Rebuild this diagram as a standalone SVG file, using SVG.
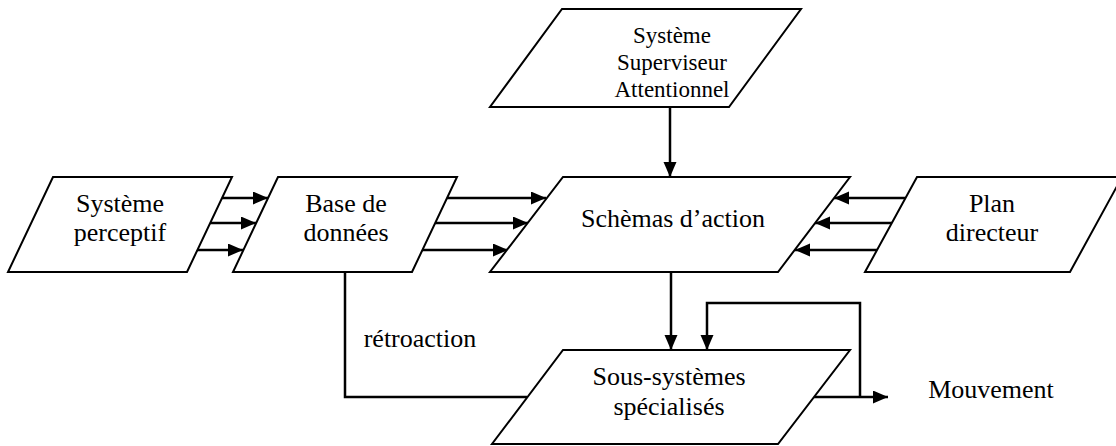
<svg xmlns="http://www.w3.org/2000/svg" width="1116" height="446" viewBox="0 0 1116 446">
<style>
.box{fill:#fff;stroke:#000;stroke-width:2;stroke-linejoin:miter}
text{font-family:Liberation Serif,"Times New Roman",Times,Tinos,"Noto Serif","DejaVu Serif",FreeSerif,serif;font-size:26px;fill:#000;text-anchor:middle}
.ts{font-size:23px}
.c{fill:none;stroke:#000;stroke-width:2.5}
.ca{fill:none;stroke:#000;stroke-width:2.5;marker-end:url(#ah)}
</style>
<defs>
<marker id="ah" markerUnits="userSpaceOnUse" markerWidth="16" markerHeight="14" refX="15" refY="6.5" orient="auto">
<path d="M0,0 L15,6.5 L0,13 Z" fill="#000"/>
</marker>
</defs>
<rect width="1116" height="446" fill="#fff"/>
<g id="connectors">
<path class="ca" d="M670,107 V177"/>
<path class="ca" d="M222,198 H268"/>
<path class="ca" d="M210,223 H256"/>
<path class="ca" d="M197,250 H243"/>
<path class="ca" d="M447,198 H546"/>
<path class="ca" d="M435,223 H528"/>
<path class="ca" d="M422,250 H508"/>
<path class="ca" d="M905,198 H834"/>
<path class="ca" d="M892,223 H815"/>
<path class="ca" d="M877,250 H795"/>
<path class="ca" d="M671,272 V350"/>
<path class="ca" d="M814,397 H888"/>
<path class="ca" d="M860,397 V303 H707 V350"/>
<path class="c" d="M345,272 V397 H527"/>
</g>
<g id="ssa">
<polygon class="box" points="562,9 801,9 729,107 490,107"/>
<text class="ts" x="672" y="43">Système</text>
<text class="ts" x="672" y="70">Superviseur</text>
<text class="ts" x="672" y="97">Attentionnel</text>
</g>
<g id="perceptif">
<polygon class="box" points="53,177 232,177 187,272 8,272"/>
<text x="120" y="212">Système</text>
<text x="120" y="241">perceptif</text>
</g>
<g id="base">
<polygon class="box" points="278,177 457,177 412,272 233,272"/>
<text x="346" y="212">Base de</text>
<text x="346" y="241">données</text>
</g>
<g id="schemas">
<polygon class="box" points="563,177 850,177 778,272 490,272"/>
<text x="673" y="227">Schèmas d’action</text>
</g>
<g id="plan">
<polygon class="box" points="917,177 1122,177 1070,272 865,272"/>
<text x="992" y="212">Plan</text>
<text x="992" y="241">directeur</text>
</g>
<g id="sous">
<polygon class="box" points="563,350 850,350 778,444 492,444"/>
<text x="669" y="385">Sous-systèmes</text>
<text x="669" y="415">spécialisés</text>
</g>
<g id="labels">
<text x="420" y="347">rétroaction</text>
<text x="991" y="398">Mouvement</text>
</g>
</svg>
